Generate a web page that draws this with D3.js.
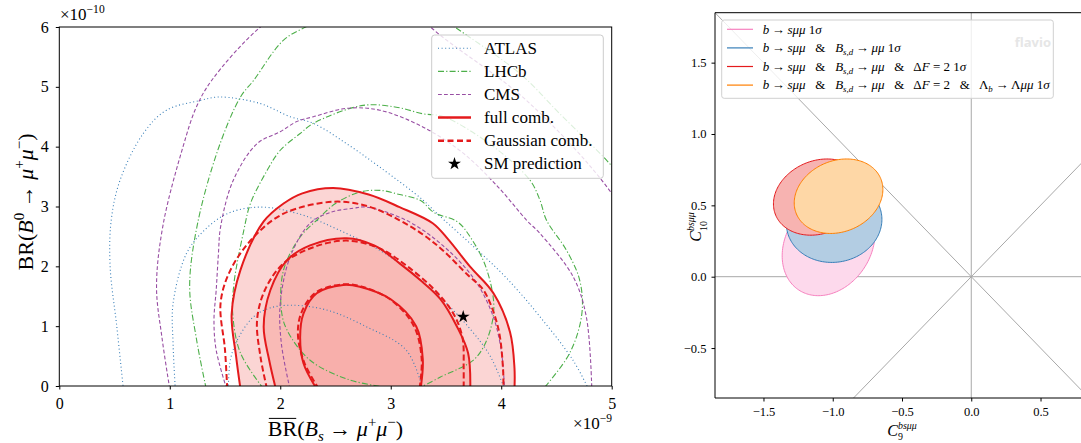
<!DOCTYPE html>
<html>
<head>
<meta charset="utf-8">
<script src="https://cdn.jsdelivr.net/npm/d3@7"></script>
<style>
  body { margin: 0; background: #fff; }
  text { font-family: "Liberation Serif", "DejaVu Serif", serif; fill: #000; white-space: pre; }
</style>
</head>
<body>
<svg id="chart" width="1081" height="443"></svg>
<script>
// ---- Left panel: BR(B0 -> mu mu) vs BR(Bs -> mu mu), contour points [BRs/1e-9, BR0/1e-10]
const fullOuter = [[1.64,-0.05],[1.60,0.5],[1.56,1.2],[1.64,1.94],[1.85,2.75],[2.03,3.05],[2.2,3.22],[2.48,3.31],[2.8,3.2],[3.08,2.99],[3.38,2.72],[3.52,2.45],[3.72,1.99],[3.93,1.55],[4.08,0.9],[4.12,0.3],[4.12,-0.05]];
const fullMid = [[1.96,-0.05],[1.90,0.43],[1.85,0.99],[1.91,1.60],[2.06,2.10],[2.27,2.35],[2.60,2.47],[2.85,2.35],[3.08,2.05],[3.28,1.75],[3.45,1.45],[3.60,0.99],[3.70,0.55],[3.72,-0.05]];
const fullInner = [[2.33,-0.05],[2.21,0.38],[2.18,0.82],[2.21,1.21],[2.33,1.55],[2.57,1.69],[2.72,1.66],[3.0,1.45],[3.23,1.0],[3.29,0.45],[3.27,-0.05]];
const gaussOuter = [[1.52,-0.05],[1.50,0.6],[1.46,1.39],[1.55,1.94],[1.76,2.49],[2.03,2.88],[2.48,3.08],[2.8,3.0],[3.08,2.77],[3.30,2.52],[3.47,2.27],[3.70,1.85],[3.84,1.6],[3.97,0.99],[4.016,0.3],[4.02,-0.05]];
const gaussMid = [[1.88,-0.05],[1.82,0.5],[1.79,1.10],[1.86,1.6],[2.03,2.05],[2.3,2.32],[2.6,2.43],[2.9,2.3],[3.15,2.0],[3.4,1.6],[3.57,1.2],[3.65,0.8],[3.66,0.3],[3.66,-0.05]];
const gaussInner = [[2.35,-0.05],[2.22,0.38],[2.16,0.85],[2.19,1.22],[2.32,1.56],[2.57,1.70],[2.74,1.66],[3.0,1.44],[3.21,1.0],[3.28,0.45],[3.26,-0.05]];

const atlasOuter = [[0.58,-0.05],[0.52,1.0],[0.46,2.0],[0.47,2.77],[0.55,3.44],[0.76,4.22],[0.97,4.61],[1.27,4.77],[1.45,4.83],[1.82,4.72],[2.09,4.50],[2.30,4.39],[2.60,4.05],[2.90,3.66],[3.29,3.11],[3.42,2.88],[3.75,2.33],[4.05,1.8],[4.35,1.16],[4.65,0.43],[4.79,-0.05]];
const atlasMid = [[1.05,-0.05],[1.03,0.7],[1.03,1.38],[1.15,2.21],[1.30,2.58],[1.52,2.88],[1.82,2.99],[2.18,2.87],[2.54,2.6],[2.96,2.2],[3.38,1.6],[3.72,0.95],[3.9,0.5],[4.03,-0.05]];
const atlasInner = [[1.53,-0.05],[1.55,0.45],[1.62,0.8],[1.76,1.16],[1.9,1.3],[2.09,1.35],[2.42,1.27],[2.78,0.99],[3.14,0.6],[3.29,-0.05]];

const lhcbOuter = [[1.33,-0.05],[1.24,0.8],[1.18,1.66],[1.25,2.7],[1.44,3.97],[1.64,4.83],[1.76,5.11],[2.03,5.78],[2.28,6.05],[2.7,6.5],[3.2,6.5],[3.58,6.0],[4.17,5.22],[4.53,4.55],[4.98,3.72],[5.3,3.0],[5.5,1.5],[5.55,-0.05]];
const lhcbMid = [[1.85,-0.05],[1.64,0.55],[1.57,1.2],[1.58,1.7],[1.67,2.6],[1.73,3.05],[1.88,3.6],[2.0,3.94],[2.18,4.22],[2.30,4.39],[2.75,4.69],[3.05,4.66],[3.29,4.55],[3.48,4.50],[3.93,4.0],[4.26,3.44],[4.35,3.11],[4.41,2.77],[4.59,2.27],[4.71,1.77],[4.73,1.21],[4.62,0.55],[4.38,-0.05]];
const lhcbInner = [[3.0,-0.03],[2.63,0.1],[2.27,0.43],[2.06,0.94],[2.01,1.27],[2.03,1.94],[2.18,2.49],[2.33,2.77],[2.5,3.05],[2.72,3.24],[2.9,3.27],[3.08,3.2],[3.27,3.1],[3.39,2.9],[3.6,2.75],[3.72,2.49],[3.87,1.94],[3.93,1.2],[3.78,0.49],[3.45,0.15],[3.26,-0.03]];

const cmsOuter = [[1.0,-0.05],[0.93,0.8],[0.88,1.66],[0.94,2.7],[1.12,4.0],[1.24,4.66],[1.38,5.11],[1.82,6.0],[2.3,6.6],[3.0,6.7],[3.36,6.0],[4.23,4.77],[4.98,3.27],[5.25,2.4],[5.35,-0.05]];
const cmsMid = [[1.515,-0.05],[1.42,0.6],[1.40,1.1],[1.42,1.6],[1.44,2.2],[1.46,2.66],[1.575,3.44],[1.79,4.05],[2.0,4.25],[2.15,4.42],[2.30,4.50],[2.60,4.64],[2.90,4.61],[3.29,4.33],[3.65,3.9],[3.97,3.33],[4.23,2.77],[4.35,2.55],[4.65,1.83],[4.77,1.16],[4.82,-0.05]];
const cmsInner = [[2.088,-0.05],[2.01,0.71],[2.0,1.38],[2.09,2.16],[2.27,2.72],[2.45,2.9],[2.66,2.97],[2.78,2.99],[3.14,2.77],[3.47,2.35],[3.75,1.8],[3.92,1.2],[4.0,0.6],[4.03,-0.05]];

const smPrediction = [3.656, 1.157];
const leftXTicks = [0, 1, 2, 3, 4, 5];
const leftYTicks = [0, 1, 2, 3, 4, 5, 6];

// ---- Right panel: 1 sigma ellipses in the (C9, C10) plane
const ellipseNames = ["bsmumu", "bsmumu+Bsd", "bsmumu+Bsd+dF2", "bsmumu+Bsd+dF2+Lb"];
const ellipseCx = [-1.03, -0.99, -1.10, -0.958];
const ellipseCy = [0.225, 0.387, 0.558, 0.564];
const ellipseSx = [0.335, 0.345, 0.328, 0.32];
const ellipseSy = [0.358, 0.287, 0.267, 0.261];
const ellipseRho = [0.22, 0.05, 0.18, 0.18];
const rightXTicks = [-1.5, -1.0, -0.5, 0.0, 0.5];
const rightYTicks = [-0.5, 0.0, 0.5, 1.0, 1.5];

const red = "#e41a1c", blue = "#377eb8", green = "#4daf4a", purple = "#984ea3",
      orange = "#ff7f00", pink = "#f781bf";
const ellipseStroke = [pink, blue, red, orange];
const ellipseFill = ["#fdd9ec", "#b3cde3", "#f7b3b1", "#fed7a6"];

const svg = d3.select("#chart");

// lays out a small formula out of pieces: italic, super/subscripts, overline
function mathText(parent, x, y, parts, size, anchor) {
  const g = parent.append("g").attr("transform", `translate(${x},${y})`);
  const inner = g.append("g");
  let cx = 0, mark = 0;
  parts.forEach(p => {
    const fs = p.s ? size * (p.sc || 0.68) : size;
    const dy = p.s === "sup" ? -size * (p.hi || 0.42) : p.s === "sub" ? size * (p.lo || 0.24) : 0;
    const start = p.stack ? mark : cx;
    const t = inner.append("text")
      .attr("x", start).attr("y", dy)
      .style("font-size", fs + "px")
      .style("font-style", p.i ? "italic" : "normal")
      .text(p.t);
    const w = t.node().getComputedTextLength();
    if (p.over) {
      inner.append("line").attr("x1", start + 1).attr("x2", start + w - 1)
        .attr("y1", -size * 0.8).attr("y2", -size * 0.8)
        .attr("stroke", "#000").attr("stroke-width", 1);
    }
    mark = start;
    cx = p.stack ? Math.max(cx, start + w) : start + w;
  });
  const shift = anchor === "middle" ? -cx / 2 : anchor === "end" ? -cx : 0;
  inner.attr("transform", `translate(${shift},0)`);
  return g;
}

// ================= LEFT PANEL =================
const x = d3.scaleLinear().domain([0, 5]).range([59.3, 611.7]);
const y = d3.scaleLinear().domain([0, 6]).range([386, 27]);

svg.append("clipPath").attr("id", "clipL").append("rect")
  .attr("x", x(0)).attr("y", y(6)).attr("width", x(5) - x(0)).attr("height", y(0) - y(6));

const plotL = svg.append("g").attr("clip-path", "url(#clipL)");
const lineL = d3.line().x(d => x(d[0])).y(d => y(d[1])).curve(d3.curveCatmullRom.alpha(0.5));

// filled combination regions
[[fullOuter, "#fbd5d4"], [fullMid, "#f9bab6"], [fullInner, "#f8afab"]].forEach(([pts, c]) => {
  plotL.append("path").attr("d", lineL(pts) + "Z").attr("fill", c).attr("stroke", "none");
});

// experiment contours
const thin = [
  [atlasOuter, blue, "1,2.6"], [atlasMid, blue, "1,2.6"], [atlasInner, blue, "1,2.6"],
  [lhcbOuter, green, "6,2.2,1.2,2.2"], [lhcbMid, green, "6,2.2,1.2,2.2"], [lhcbInner, green, "6,2.2,1.2,2.2"],
  [cmsOuter, purple, "3.8,2.2"], [cmsMid, purple, "3.8,2.2"], [cmsInner, purple, "3.8,2.2"]
];
thin.forEach(([pts, c, dash]) => {
  plotL.append("path").attr("d", lineL(pts)).attr("fill", "none")
    .attr("stroke", c).attr("stroke-width", 1.1).attr("stroke-dasharray", dash);
});

[fullOuter, fullMid, fullInner].forEach(pts => {
  plotL.append("path").attr("d", lineL(pts)).attr("fill", "none")
    .attr("stroke", red).attr("stroke-width", 2);
});
[gaussOuter, gaussMid, gaussInner].forEach(pts => {
  plotL.append("path").attr("d", lineL(pts)).attr("fill", "none")
    .attr("stroke", red).attr("stroke-width", 2).attr("stroke-dasharray", "6,3");
});

const star = d3.symbol().type(d3.symbolStar).size(52);
svg.append("path").attr("d", star())
  .attr("transform", `translate(${x(smPrediction[0])},${y(smPrediction[1])})`).attr("fill", "#000");

// axes
const axL = svg.append("g").attr("transform", `translate(0,${y(0)})`)
  .call(d3.axisBottom(x).tickValues(leftXTicks).tickFormat(d3.format("d")).tickSize(3.5).tickPadding(8.5).tickSizeOuter(0));
const ayL = svg.append("g").attr("transform", `translate(${x(0)},0)`)
  .call(d3.axisLeft(y).tickValues(leftYTicks).tickFormat(d3.format("d")).tickSize(3.5).tickPadding(7).tickSizeOuter(0));
[axL, ayL].forEach(a => {
  a.select(".domain").remove();
  a.attr("font-size", null).attr("font-family", null);
  a.selectAll("text").style("font-size", "16px");
  a.selectAll("line").attr("stroke", "#000");
});
svg.append("rect").attr("x", x(0)).attr("y", y(6)).attr("width", x(5) - x(0)).attr("height", y(0) - y(6))
  .attr("fill", "none").attr("stroke", "#000").attr("stroke-width", 1);

mathText(svg, 60, 20, [{ t: "×10" }, { t: "−10", s: "sup" }], 17, "start");
mathText(svg, 612, 429, [{ t: "×10" }, { t: "−9", s: "sup" }], 17, "end");

mathText(svg, 335.5, 436, [
  { t: "BR", over: true }, { t: "(" }, { t: "B", i: true }, { t: "s", i: true, s: "sub" },
  { t: " → " }, { t: "μ", i: true }, { t: "+", s: "sup" }, { t: "μ", i: true }, { t: "−", s: "sup" }, { t: ")" }
], 22, "middle");

const yLab = svg.append("g").attr("transform", "translate(33,202) rotate(-90)");
mathText(yLab, 0, 0, [
  { t: "BR(" }, { t: "B", i: true }, { t: "0", s: "sup" }, { t: " → " },
  { t: "μ", i: true }, { t: "+", s: "sup" }, { t: "μ", i: true }, { t: "−", s: "sup" }, { t: ")" }
], 22, "middle");

// legend
const legL = svg.append("g");
legL.append("rect").attr("x", 431.7).attr("y", 35).attr("width", 171.6).attr("height", 143.3).attr("rx", 3)
  .attr("fill", "#fff").attr("fill-opacity", 0.8).attr("stroke", "#cccccc").attr("stroke-width", 1);
const legLItems = [
  { label: "ATLAS", color: blue, w: 1.1, dash: "1,2.6" },
  { label: "LHCb", color: green, w: 1.1, dash: "6,2.2,1.2,2.2" },
  { label: "CMS", color: purple, w: 1.1, dash: "3.8,2.2" },
  { label: "full comb.", color: red, w: 2.5, dash: null },
  { label: "Gaussian comb.", color: red, w: 2.5, dash: "6,3.5" },
  { label: "SM prediction", star: true }
];
legLItems.forEach((d, i) => {
  const cy = 48.3 + i * 23.1;
  if (d.star) {
    legL.append("path").attr("d", star()).attr("transform", `translate(454.5,${cy})`).attr("fill", "#000");
  } else {
    legL.append("line").attr("x1", 438).attr("x2", 471).attr("y1", cy).attr("y2", cy)
      .attr("stroke", d.color).attr("stroke-width", d.w).attr("stroke-dasharray", d.dash);
  }
  legL.append("text").attr("x", 484).attr("y", cy + 5.5).style("font-size", "17px").text(d.label);
});

// ================= RIGHT PANEL =================
const xr = d3.scaleLinear().domain([-1.85, 0.85]).range([715, 1089]);
const yr = d3.scaleLinear().domain([-0.85, 1.85]).range([398, 12.7]);

svg.append("clipPath").attr("id", "clipR").append("rect")
  .attr("x", xr(-1.85)).attr("y", yr(1.85)).attr("width", xr(0.85) - xr(-1.85)).attr("height", yr(-0.85) - yr(1.85));
const plotR = svg.append("g").attr("clip-path", "url(#clipR)");

// reference lines through the origin
const refLines = [[[-2, 0], [1, 0]], [[0, -1], [0, 2]], [[-2, -2], [2, 2]], [[-2, 2], [2, -2]]];
refLines.forEach(([a, b]) => {
  plotR.append("line").attr("x1", xr(a[0])).attr("y1", yr(a[1])).attr("x2", xr(b[0])).attr("y2", yr(b[1]))
    .attr("stroke", "#a8a8a8").attr("stroke-width", 1);
});

const angles = d3.range(0, 2 * Math.PI + 0.01, Math.PI / 90);
const lineR = d3.line().x(d => xr(d[0])).y(d => yr(d[1]));
ellipseNames.forEach((n, k) => {
  const pts = angles.map(t => [
    ellipseCx[k] + ellipseSx[k] * Math.cos(t),
    ellipseCy[k] + ellipseSy[k] * (ellipseRho[k] * Math.cos(t) + Math.sqrt(1 - ellipseRho[k] ** 2) * Math.sin(t))
  ]);
  plotR.append("path").attr("d", lineR(pts) + "Z")
    .attr("fill", ellipseFill[k]).attr("stroke", ellipseStroke[k]).attr("stroke-width", 1);
});

const fmtR = d => d3.format(".1f")(d).replace("-", "−");
const axR = svg.append("g").attr("transform", `translate(0,${yr(-0.85)})`)
  .call(d3.axisBottom(xr).tickValues(rightXTicks).tickFormat(fmtR).tickSize(3.5).tickPadding(6).tickSizeOuter(0));
const ayR = svg.append("g").attr("transform", `translate(${xr(-1.85)},0)`)
  .call(d3.axisLeft(yr).tickValues(rightYTicks).tickFormat(fmtR).tickSize(3.5).tickPadding(5).tickSizeOuter(0));
[axR, ayR].forEach(a => {
  a.select(".domain").remove();
  a.attr("font-size", null).attr("font-family", null);
  a.selectAll("text").style("font-size", "12.5px");
  a.selectAll("line").attr("stroke", "#000");
});
svg.append("line").attr("x1", xr(-1.85)).attr("x2", xr(-1.85)).attr("y1", yr(1.85)).attr("y2", yr(-0.85)).attr("stroke", "#000");
svg.append("line").attr("x1", xr(-1.85)).attr("x2", 1081).attr("y1", yr(-0.85)).attr("y2", yr(-0.85)).attr("stroke", "#000");
svg.append("line").attr("x1", xr(-1.85)).attr("x2", 1081).attr("y1", yr(1.85)).attr("y2", yr(1.85)).attr("stroke", "#000");

mathText(svg, 902, 435.5, [
  { t: "C", i: true }, { t: "bsμμ", i: true, s: "sup", hi: 0.4, sc: 0.62 }, { t: "9", s: "sub", stack: true, lo: 0.3, sc: 0.62 }
], 16, "middle");
const yLabR = svg.append("g").attr("transform", "translate(701,227) rotate(-90)");
mathText(yLabR, 0, 0, [
  { t: "C", i: true }, { t: "bsμμ", i: true, s: "sup", hi: 0.45, sc: 0.62 }, { t: "10", s: "sub", stack: true, lo: 0.36, sc: 0.62 }
], 16, "middle");

// legend
const legR = svg.append("g");
legR.append("rect").attr("x", 721.7).attr("y", 20).attr("width", 331.6).attr("height", 78.3).attr("rx", 2.5)
  .attr("fill", "#fff").attr("fill-opacity", 0.8).attr("stroke", "#d0d0d0").attr("stroke-width", 1);
const arrow = "\u2009→\u2009";
const amp = "   &   ";
const base = [{ t: "b", i: true }, { t: arrow }, { t: "sμμ", i: true }];
const bsd = [{ t: amp }, { t: "B", i: true }, { t: "s,d", i: true, s: "sub" }, { t: arrow }, { t: "μμ", i: true }];
const df2 = [{ t: amp + "Δ" }, { t: "F", i: true }, { t: " = 2" }];
const lb = [{ t: amp + "Λ" }, { t: "b", i: true, s: "sub" }, { t: arrow + "Λ" }, { t: "μμ", i: true }];
const sig = [{ t: " 1" }, { t: "σ", i: true }];
const legRLabels = [
  base.concat(sig),
  base.concat(bsd, sig),
  base.concat(bsd, df2, sig),
  base.concat(bsd, df2, lb, sig)
];
legRLabels.forEach((parts, i) => {
  const cy = 29.3 + i * 18.6;
  legR.append("line").attr("x1", 727).attr("x2", 753).attr("y1", cy).attr("y2", cy)
    .attr("stroke", ellipseStroke[i]).attr("stroke-width", 1.2);
  mathText(legR, 762.7, cy + 4.2, parts, 13, "start");
});

svg.append("text").attr("x", 1051).attr("y", 47).attr("text-anchor", "end")
  .style("font-family", "'Open Sans', 'DejaVu Sans', sans-serif").style("font-weight", "bold")
  .style("font-size", "13px").style("fill", "#e6e6e6").text("flavio");
</script>
</body>
</html>
